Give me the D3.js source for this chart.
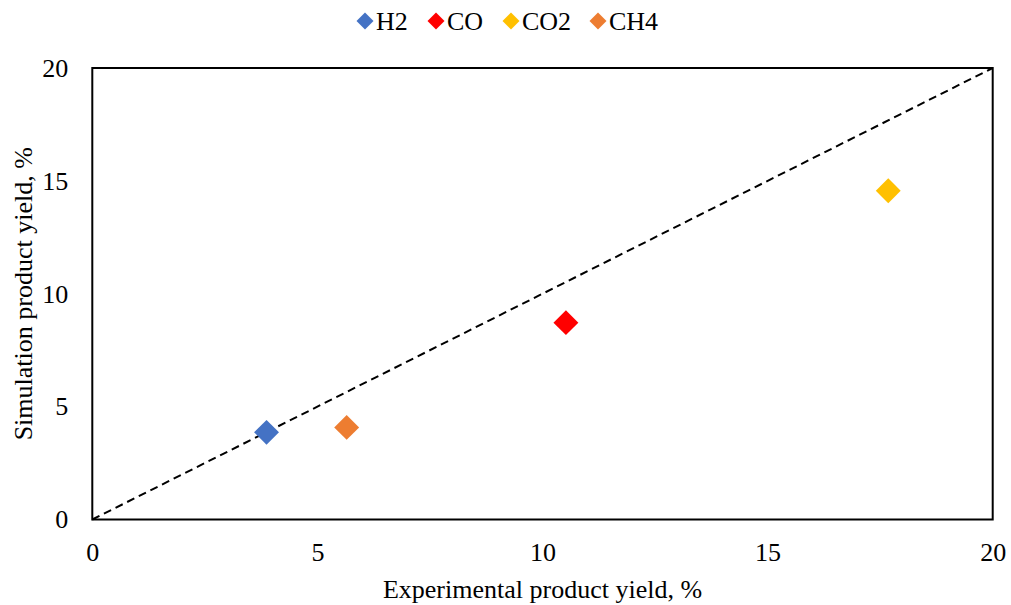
<!DOCTYPE html>
<html>
<head>
<meta charset="utf-8">
<script src="https://cdn.jsdelivr.net/npm/d3@7"></script>
<style>
  html, body { margin: 0; padding: 0; background: #fff; }
  text { font-family: "Liberation Serif", "Times New Roman", serif; fill: #000; }
</style>
</head>
<body>
<svg id="chart" width="1011" height="605"></svg>
<script>
// Product yields: experimental (x) vs simulation (y), in %
const species = ["H2", "CO", "CO2", "CH4"];
const experimental = [3.87, 10.52, 17.68, 5.65];
const simulation = [3.86, 8.72, 14.56, 4.08];
const colors = ["#4472C4", "#FF0000", "#FFC000", "#ED7D31"];
const xTicks = [0, 5, 10, 15, 20];
const yTicks = [0, 5, 10, 15, 20];

const svg = d3.select("#chart");
const W = 1011, H = 605;
const margin = { left: 92.3, right: W - 992.7, top: 68, bottom: H - 519.5 };

const x = d3.scaleLinear().domain([0, 20]).range([margin.left, W - margin.right]);
const y = d3.scaleLinear().domain([0, 20]).range([H - margin.bottom, margin.top]);

// Parity line y = x
svg.append("line")
  .attr("x1", x(0)).attr("y1", y(0))
  .attr("x2", x(20)).attr("y2", y(20))
  .attr("stroke", "#000").attr("stroke-width", 2)
  .attr("stroke-dasharray", "8,5");

// Axes: labels only, no tick marks
const xAxis = svg.append("g")
  .attr("transform", `translate(0,${y(0)})`)
  .call(d3.axisBottom(x).tickValues(xTicks).tickSize(0).tickPadding(23).tickFormat(d3.format("d")));
const yAxis = svg.append("g")
  .attr("transform", `translate(${x(0)},0)`)
  .call(d3.axisLeft(y).tickValues(yTicks).tickSize(0).tickPadding(24).tickFormat(d3.format("d")));
[xAxis, yAxis].forEach(g => {
  g.attr("font-size", null).attr("font-family", null);
  g.select(".domain").remove();
  g.selectAll("text").style("font-size", "26px").style("font-family", "'Liberation Serif', serif").attr("fill", "#000");
});

// Plot frame
svg.append("rect")
  .attr("x", x(0)).attr("y", y(20))
  .attr("width", x(20) - x(0)).attr("height", y(0) - y(20))
  .attr("fill", "none").attr("stroke", "#000").attr("stroke-width", 2);

// Diamond markers
const diamond = d3.symbol().type(d3.symbolSquare).size(310);
svg.append("g").selectAll("path")
  .data(species.map((s, i) => ({ s, ex: experimental[i], sim: simulation[i], c: colors[i] })))
  .join("path")
  .attr("d", diamond)
  .attr("transform", d => `translate(${x(d.ex)},${y(d.sim)}) rotate(45)`)
  .attr("fill", d => d.c);

// Axis titles
svg.append("text")
  .attr("x", (x(0) + x(20)) / 2).attr("y", 598)
  .attr("text-anchor", "middle").style("font-size", "26px")
  .text("Experimental product yield, %");
svg.append("text")
  .attr("transform", `translate(32,${(y(0) + y(20)) / 2}) rotate(-90)`)
  .attr("text-anchor", "middle").style("font-size", "26px")
  .text("Simulation product yield, %");

// Legend
const legendX = [365, 436, 511, 598];
const legend = svg.append("g");
species.forEach((s, i) => {
  legend.append("path")
    .attr("d", d3.symbol().type(d3.symbolSquare).size(144)())
    .attr("transform", `translate(${legendX[i]},21) rotate(45)`)
    .attr("fill", colors[i]);
  legend.append("text")
    .attr("x", legendX[i] + 11).attr("y", 30)
    .style("font-size", "26px")
    .text(s);
});
</script>
</body>
</html>
